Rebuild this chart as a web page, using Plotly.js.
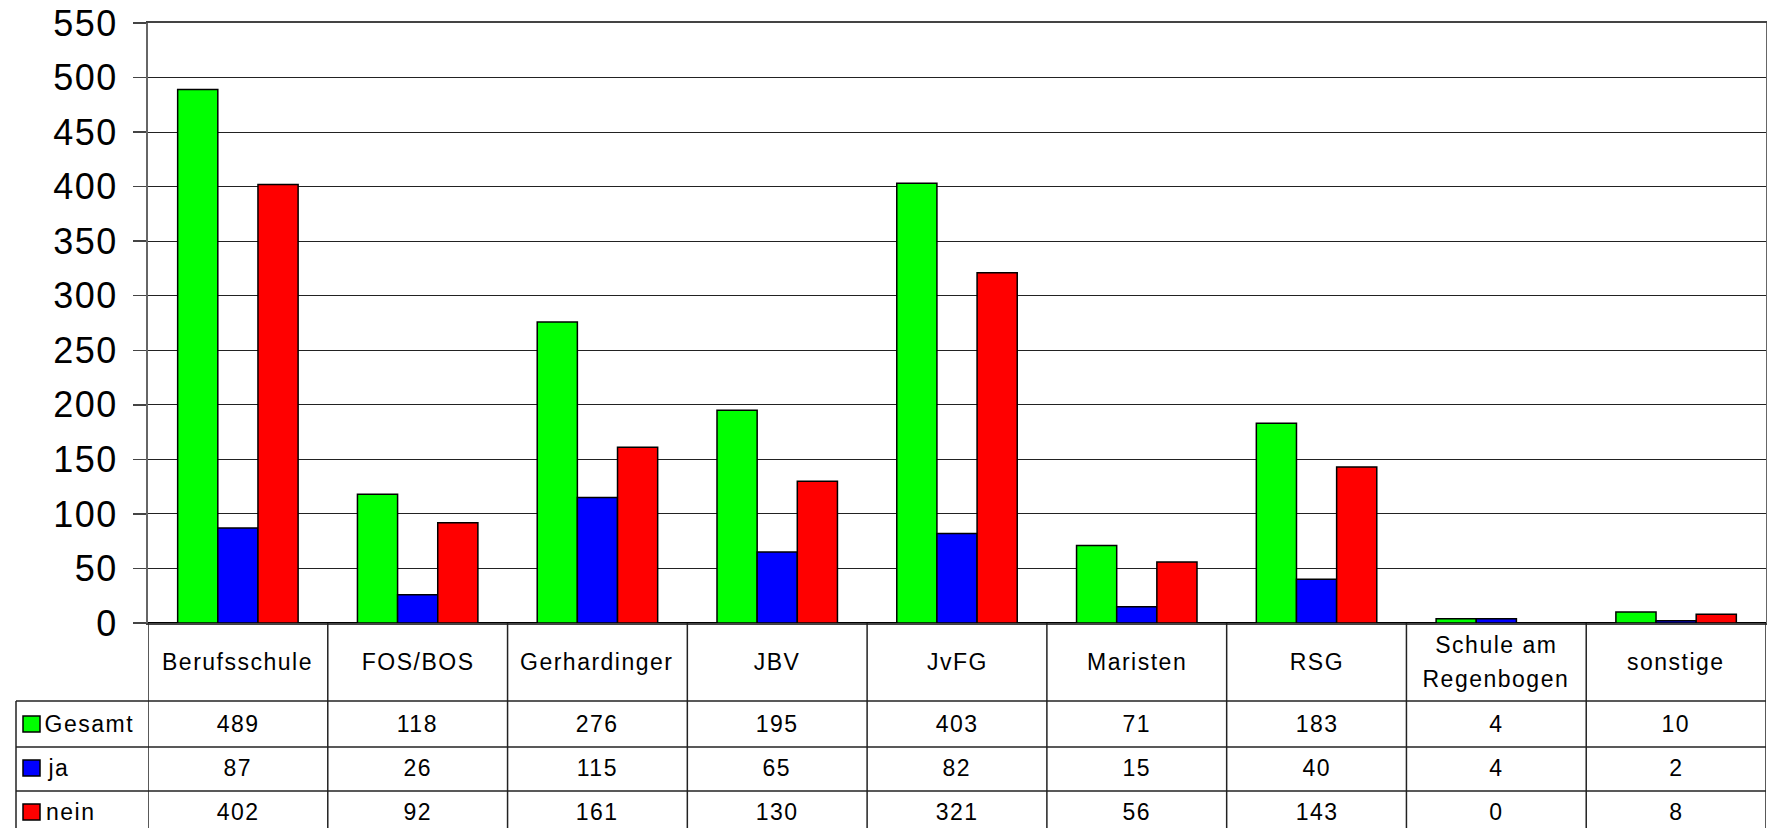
<!DOCTYPE html>
<html>
<head>
<meta charset="utf-8">
<script src="https://cdn.plot.ly/plotly-3.0.1.min.js"></script>
<style>
  body { margin: 0; background: #fff; }
  #chart .annotation-text { letter-spacing: 1.5px; }
  #chart .ytick text { letter-spacing: 1.5px; }
</style>
</head>
<body>
<div id="chart" style="width:1767px;height:828px;"></div>
<script>
// schools (x categories) and their labels in the table row
var schools = ['Berufsschule', 'FOS/BOS', 'Gerhardinger', 'JBV', 'JvFG', 'Maristen', 'RSG', 'Schule am Regenbogen', 'sonstige'];
var schoolLabels = ['Berufsschule', 'FOS/BOS', 'Gerhardinger', 'JBV', 'JvFG', 'Maristen', 'RSG', 'Schule am<br>Regenbogen', 'sonstige'];

var seriesNames = ['Gesamt', 'ja', 'nein'];
var gesamt = [489, 118, 276, 195, 403, 71, 183, 4, 10];
var ja     = [87, 26, 115, 65, 82, 15, 40, 4, 2];
var nein   = [402, 92, 161, 130, 321, 56, 143, 0, 8];
var colors = ['#00ff00', '#0000ff', '#ff0000'];

var yTicks = [0, 50, 100, 150, 200, 250, 300, 350, 400, 450, 500, 550];

// plot area in pixels
var W = 1767, H = 828;
var L = 148, R = 1, T = 23, B = 205;
var plotW = W - L - R, plotH = H - T - B;

function px2x(px) { return (px - L) / plotW; }
function py2y(py) { return (H - B - py) / plotH; }

var values = [gesamt, ja, nein];
var traces = [];
for (var s = 0; s < 3; s++) {
  traces.push({
    type: 'bar',
    name: seriesNames[s],
    x: schools,
    y: values[s],
    marker: { color: colors[s], line: { color: '#000', width: 1.5 } },
    hoverinfo: 'skip'
  });
}

// table geometry (pixel rows)
var rowLines = [701, 747, 791];
var tableBottom = py2y(H);
var legendLeft = px2x(16);
var rowCenters = [724, 768, 812];
var labelCenter = 662;
var labelLineGap = 34;

var shapes = [];
var annotations = [];

// vertical lines between categories
for (var k = 0; k <= schools.length; k++) {
  shapes.push({
    type: 'line', xref: 'x', yref: 'paper',
    x0: k - 0.5, x1: k - 0.5, y0: 0, y1: tableBottom,
    line: { color: '#222', width: 1.5 }
  });
}
// horizontal row lines
for (var r = 0; r < rowLines.length; r++) {
  shapes.push({
    type: 'line', xref: 'paper', yref: 'paper',
    x0: legendLeft, x1: 1, y0: py2y(rowLines[r]), y1: py2y(rowLines[r]),
    line: { color: '#222', width: 1.5 }
  });
}
// legend column left border
shapes.push({
  type: 'line', xref: 'paper', yref: 'paper',
  x0: legendLeft, x1: legendLeft, y0: py2y(rowLines[0]), y1: tableBottom,
  line: { color: '#222', width: 1.5 }
});

// category labels (multi-line labels split so the line gap can be set)
for (var i = 0; i < schools.length; i++) {
  var lines = schoolLabels[i].split('<br>');
  for (var li = 0; li < lines.length; li++) {
    var off = (li - (lines.length - 1) / 2) * labelLineGap;
    annotations.push({
      xref: 'x', yref: 'paper', x: schools[i], y: py2y(labelCenter + off),
      text: lines[li], showarrow: false, xanchor: 'center', yanchor: 'middle',
      font: { size: 23, color: '#000' }
    });
  }
}

// legend keys + values
for (var s2 = 0; s2 < 3; s2++) {
  var cy = rowCenters[s2];
  shapes.push({
    type: 'rect', xref: 'paper', yref: 'paper',
    x0: px2x(23), x1: px2x(40), y0: py2y(cy + 8), y1: py2y(cy - 8),
    fillcolor: colors[s2], line: { color: '#000', width: 1.5 }
  });
  annotations.push({
    xref: 'paper', yref: 'paper', x: px2x(47), y: py2y(cy),
    text: seriesNames[s2], showarrow: false, xanchor: 'left', yanchor: 'middle',
    font: { size: 23, color: '#000' }
  });
  for (var j = 0; j < schools.length; j++) {
    annotations.push({
      xref: 'x', yref: 'paper', x: schools[j], y: py2y(cy),
      text: String(values[s2][j]), showarrow: false, xanchor: 'center', yanchor: 'middle',
      font: { size: 23, color: '#000' }
    });
  }
}

var layout = {
  width: W, height: H,
  margin: { l: L, r: R, t: T, b: B, pad: 0 },
  paper_bgcolor: '#fff', plot_bgcolor: '#fff',
  font: { family: 'Liberation Sans, Arial, sans-serif', color: '#000' },
  showlegend: false,
  barmode: 'group',
  bargap: 0.33,
  bargroupgap: 0,
  xaxis: {
    type: 'category', range: [-0.5, 8.5],
    showticklabels: false, ticks: '', showgrid: false, zeroline: false,
    showline: true, linecolor: '#444', linewidth: 2, mirror: true,
    fixedrange: true
  },
  yaxis: {
    range: [0, 550], tickvals: yTicks, ticktext: yTicks.map(String),
    showgrid: true, gridcolor: '#222', gridwidth: 1,
    zeroline: true, zerolinecolor: '#000', zerolinewidth: 2,
    showline: true, linecolor: '#666', linewidth: 2, mirror: true,
    ticks: 'outside', ticklen: 13, tickcolor: '#444', tickwidth: 1.5,
    ticklabelstandoff: 8,
    tickfont: { size: 36, color: '#000' },
    fixedrange: true
  },
  shapes: shapes,
  annotations: annotations,
  hovermode: false
};

Plotly.newPlot('chart', traces, layout, { displayModeBar: false, staticPlot: true });
</script>
</body>
</html>
